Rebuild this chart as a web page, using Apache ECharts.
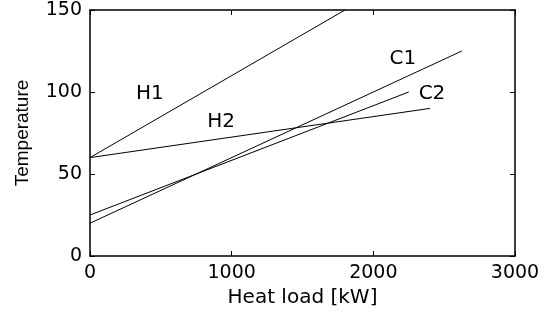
<!DOCTYPE html>
<html>
<head>
<meta charset="utf-8">
<script src="https://cdn.jsdelivr.net/npm/echarts@6/dist/echarts.min.js"></script>
<style>
  html, body { margin: 0; padding: 0; background: #fff; }
  #chart { width: 544px; height: 314px; }
</style>
</head>
<body>
<div id="chart"></div>
<script>
// stream data: straight lines from start to end (heat load kW, temperature)
var streams = ['H1', 'H2', 'C1', 'C2'];
var loadStart = [0, 0, 0, 0];
var loadEnd = [1800, 2400, 2625, 2250];
var tempStart = [60, 60, 20, 25];
var tempEnd = [150, 90, 125, 100];
// where each stream name is written
var nameLoad = [423, 925, 2209, 2414];
var nameTemp = [99, 82, 120, 99];

var xTicks = [0, 1000, 2000, 3000];
var yTicks = [0, 50, 100, 150];

var myChart = echarts.init(document.getElementById('chart'));

var tickFont = { fontFamily: 'DejaVu Sans', fontSize: 19, color: '#000' };

function boxAxis(pos, ticks, showLabel) {
    return {
        type: 'value',
        position: pos,
        min: ticks[0],
        max: ticks[ticks.length - 1],
        interval: ticks[1] - ticks[0],
        axisLine: { show: true, onZero: false, lineStyle: { color: '#000', width: 1.5 } },
        axisTick: { show: true, inside: true, length: 5, lineStyle: { color: '#000' } },
        axisLabel: Object.assign({ show: showLabel, margin: 8, formatter: function (v) { return String(v); } }, tickFont),
        splitLine: { show: false }
    };
}

var series = [];
streams.forEach(function (s, i) {
    series.push({
        name: s,
        type: 'line',
        data: [[loadStart[i], tempStart[i]], [loadEnd[i], tempEnd[i]]],
        symbol: 'none',
        lineStyle: { color: '#000', width: 1 },
        silent: true
    });
});
series.push({
    name: 'labels',
    type: 'scatter',
    symbolSize: 0,
    itemStyle: { color: '#000', opacity: 1 },
    data: streams.map(function (s, i) { return { value: [nameLoad[i], nameTemp[i]], name: s }; }),
    label: {
        show: true,
        position: 'inside',
        formatter: '{b}',
        fontFamily: 'DejaVu Sans',
        fontSize: 20,
        color: '#000',
        textBorderWidth: 0
    },
    silent: true
});

var xMain = boxAxis('bottom', xTicks, true);
xMain.name = 'Heat load [kW]';
xMain.nameLocation = 'middle';
xMain.nameGap = 30;
xMain.nameTextStyle = { fontFamily: 'DejaVu Sans', fontSize: 20, color: '#000' };

var yMain = boxAxis('left', yTicks, true);
yMain.name = 'Temperature';
yMain.nameLocation = 'middle';
yMain.nameGap = 58;
yMain.nameTextStyle = { fontFamily: 'Liberation Sans', fontSize: 19, color: '#000' };

option = {
    animation: false,
    backgroundColor: '#fff',
    grid: { left: 90, right: 29, top: 10, bottom: 58 },
    xAxis: [xMain, boxAxis('top', xTicks, false)],
    yAxis: [yMain, boxAxis('right', yTicks, false)],
    series: series
};

myChart.setOption(option, true);
</script>
</body>
</html>
